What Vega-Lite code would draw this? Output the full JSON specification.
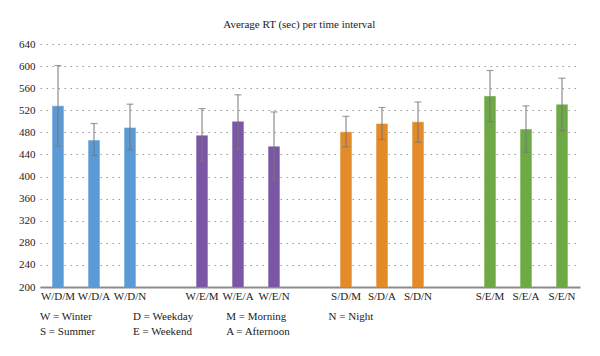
{
  "$schema": "https://vega.github.io/schema/vega-lite/v6.json",
  "background": "white",
  "padding": {"left": 18, "top": 19, "right": 20, "bottom": 0},
  "config": {
    "font": "Liberation Serif",
    "view": {"stroke": null},
    "concat": {"spacing": 8},
    "axisY": {
      "title": null,
      "labelFontSize": 11,
      "labelColor": "#222",
      "labelPadding": 5,
      "labelOverlap": false,
      "ticks": false,
      "domain": false,
      "grid": true,
      "gridColor": "#9a9a9a",
      "gridDash": [1.5, 4.5],
      "gridWidth": 1
    }
  },
  "title": {"text": "Average RT (sec) per time interval", "fontSize": 11, "fontWeight": "normal", "font": "Liberation Serif", "color": "#222", "offset": 8, "anchor": "middle"},
  "datasets": {
    "rt": [
      {"interval": "W/D/M", "group": "Winter weekday", "rt": 528, "low": 455, "high": 601},
      {"interval": "W/D/A", "group": "Winter weekday", "rt": 466, "low": 438, "high": 496},
      {"interval": "W/D/N", "group": "Winter weekday", "rt": 489, "low": 448, "high": 531},
      {"interval": "W/E/M", "group": "Winter weekend", "rt": 475, "low": 428, "high": 523},
      {"interval": "W/E/A", "group": "Winter weekend", "rt": 500, "low": 450, "high": 548},
      {"interval": "W/E/N", "group": "Winter weekend", "rt": 455, "low": 394, "high": 517},
      {"interval": "S/D/M", "group": "Summer weekday", "rt": 481, "low": 454, "high": 509},
      {"interval": "S/D/A", "group": "Summer weekday", "rt": 496, "low": 467, "high": 525},
      {"interval": "S/D/N", "group": "Summer weekday", "rt": 499, "low": 462, "high": 535},
      {"interval": "S/E/M", "group": "Summer weekend", "rt": 546, "low": 499, "high": 592},
      {"interval": "S/E/A", "group": "Summer weekend", "rt": 486, "low": 444, "high": 528},
      {"interval": "S/E/N", "group": "Summer weekend", "rt": 531, "low": 483, "high": 578}
    ],
    "keys": [
      {"label": "W = Winter", "col": 0, "line": 0},
      {"label": "D = Weekday", "col": 1, "line": 0},
      {"label": "M = Morning", "col": 2, "line": 0},
      {"label": "N = Night", "col": 3.1, "line": 0},
      {"label": "S = Summer", "col": 0, "line": 1},
      {"label": "E = Weekend", "col": 1, "line": 1},
      {"label": "A = Afternoon", "col": 2, "line": 1}
    ]
  },
  "vconcat": [
    {
      "width": 540,
      "height": 243,
      "data": {"name": "rt"},
      "encoding": {
        "x": {
          "field": "interval",
          "type": "nominal",
          "sort": null,
          "scale": {
            "domain": ["W/D/M", "W/D/A", "W/D/N", "gap1", "W/E/M", "W/E/A", "W/E/N", "gap2", "S/D/M", "S/D/A", "S/D/N", "gap3", "S/E/M", "S/E/A", "S/E/N"],
            "paddingInner": 0.67,
            "paddingOuter": 0.335
          },
          "axis": {
            "title": null,
            "labelAngle": 0,
            "labelExpr": "indexof(datum.value, 'gap') === 0 ? '' : datum.value",
            "labelFontSize": 11,
            "labelColor": "#222",
            "labelPadding": 3,
            "labelOverlap": false,
            "ticks": false,
            "domainColor": "#8c8c8c",
            "domainWidth": 2,
            "grid": false
          }
        }
      },
      "layer": [
        {
          "mark": {"type": "bar", "clip": true, "stroke": "white", "strokeOpacity": 0.45, "strokeWidth": 1},
          "encoding": {
            "y": {
              "field": "rt",
              "type": "quantitative",
              "scale": {"domain": [200, 640], "nice": false, "zero": false},
              "axis": {"values": [200, 240, 280, 320, 360, 400, 440, 480, 520, 560, 600, 640], "labelOverlap": false}
            },
            "color": {
              "field": "group",
              "type": "nominal",
              "scale": {
                "domain": ["Winter weekday", "Winter weekend", "Summer weekday", "Summer weekend"],
                "range": ["#5b9bd5", "#7a56a5", "#e38a29", "#6daa45"]
              },
              "legend": null
            }
          }
        },
        {
          "mark": {"type": "rule", "color": "#777777", "strokeWidth": 1},
          "encoding": {
            "y": {"field": "low", "type": "quantitative", "axis": {"values": [200, 240, 280, 320, 360, 400, 440, 480, 520, 560, 600, 640], "labelOverlap": false}},
            "y2": {"field": "high"}
          }
        },
        {
          "mark": {"type": "tick", "color": "#777777", "thickness": 1.2, "size": 7},
          "encoding": {"y": {"field": "low", "type": "quantitative", "axis": {"values": [200, 240, 280, 320, 360, 400, 440, 480, 520, 560, 600, 640], "labelOverlap": false}}}
        },
        {
          "mark": {"type": "tick", "color": "#777777", "thickness": 1.2, "size": 7},
          "encoding": {"y": {"field": "high", "type": "quantitative", "axis": {"values": [200, 240, 280, 320, 360, 400, 440, 480, 520, 560, 600, 640], "labelOverlap": false}}}
        }
      ]
    },
    {
      "width": 540,
      "height": 30,
      "data": {"name": "keys"},
      "mark": {"type": "text", "align": "left", "baseline": "middle", "fontSize": 11, "color": "#222", "font": "Liberation Serif"},
      "encoding": {
        "x": {"field": "col", "type": "quantitative", "scale": {"domain": [0, 5.8], "nice": false}, "axis": null},
        "y": {"field": "line", "type": "ordinal", "axis": null},
        "text": {"field": "label"}
      }
    }
  ]
}
